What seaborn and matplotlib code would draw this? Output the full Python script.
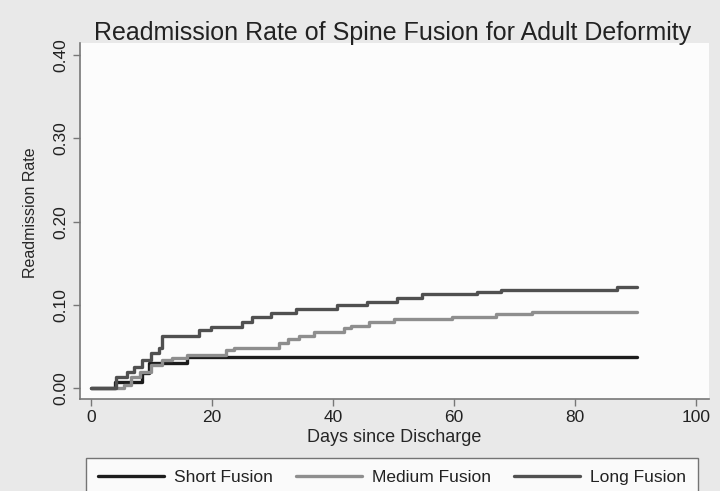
import pandas as pd
import matplotlib
matplotlib.use("Agg")
import matplotlib.pyplot as plt
import seaborn as sns

# -------------------
# Data
# -------------------
short_days = [0, 4.0, 8.5, 9.6, 15.9, 90.2]
short_rate = [0, 0.008, 0.018, 0.030, 0.038, 0.038]

medium_days = [0, 5.5, 6.6, 8.2, 9.9, 11.8, 13.4, 15.9, 22.3, 23.6, 31.0, 32.5,
               34.4, 36.9, 41.8, 43.0, 46.0, 50.0, 59.7, 66.9, 72.9, 90.2]
medium_rate = [0, 0.004, 0.013, 0.020, 0.028, 0.034, 0.036, 0.040, 0.046, 0.048, 0.054, 0.059,
               0.063, 0.067, 0.072, 0.075, 0.079, 0.083, 0.085, 0.089, 0.091, 0.091]

long_days = [0, 4.1, 6.0, 7.1, 8.5, 9.9, 11.2, 11.8, 17.9, 19.8, 25.0, 26.6,
             29.7, 33.9, 40.7, 45.6, 50.6, 54.7, 63.8, 67.8, 86.8, 90.2]
long_rate = [0, 0.014, 0.020, 0.026, 0.034, 0.042, 0.048, 0.063, 0.070, 0.073, 0.079, 0.085,
             0.090, 0.095, 0.100, 0.103, 0.108, 0.113, 0.115, 0.118, 0.121, 0.121]

groups = ["Short Fusion", "Medium Fusion", "Long Fusion"]
colors = ["#1c1c1c", "#8e8e8e", "#505050"]

x_ticks = [0, 20, 40, 60, 80, 100]
y_ticks = [0.0, 0.1, 0.2, 0.3, 0.4]

df = pd.concat([
    pd.DataFrame({"days": short_days, "rate": short_rate, "group": groups[0]}),
    pd.DataFrame({"days": medium_days, "rate": medium_rate, "group": groups[1]}),
    pd.DataFrame({"days": long_days, "rate": long_rate, "group": groups[2]}),
])

# -------------------
# Plot
# -------------------
sns.set_style("ticks")
plt.rcParams["font.family"] = ["Liberation Sans", "DejaVu Sans"]
plt.rcParams["text.color"] = "#222222"

fig = plt.figure(figsize=(7.2, 4.91), dpi=100, facecolor="#e9e9e9")
ax = fig.add_axes([0.111, 0.187, 0.874, 0.725])
ax.set_facecolor("#fcfcfc")

sns.lineplot(data=df, x="days", y="rate", hue="group", hue_order=groups,
             palette=colors, estimator=None, drawstyle="steps-post",
             linewidth=2.4, legend=False, ax=ax)

ax.set_xlim(-1.8, 102.1)
ax.set_ylim(-0.0132, 0.4144)
ax.set_xticks(x_ticks)
ax.set_xticklabels([str(t) for t in x_ticks], fontsize=12.5, color="#222222")
ax.set_yticks(y_ticks)
ax.set_yticklabels([f"{t:.2f}" for t in y_ticks], fontsize=12.5, color="#222222",
                   rotation=90, va="center")
ax.tick_params(axis="both", direction="out", length=5, width=1, color="#777777", pad=3)

sns.despine(ax=ax)
for side in ["left", "bottom"]:
    ax.spines[side].set_color("#777777")
    ax.spines[side].set_linewidth(1.2)

ax.set_xlabel("Days since Discharge", fontsize=13, labelpad=3)
ax.set_ylabel("Readmission Rate", fontsize=11.5)
ax.yaxis.set_label_coords(-0.066, 0.525)
fig.text(0.545, 0.933, "Readmission Rate of Spine Fusion for Adult Deformity",
         ha="center", va="center", fontsize=18, color="#222222")

handles = [plt.Line2D([], [], color=c, linewidth=2.4) for c in colors]
leg = fig.legend(handles, groups, loc="upper left", ncol=3,
                 bbox_to_anchor=(0.119, 0.067), borderaxespad=0, fontsize=12.5,
                 handlelength=3.8, handletextpad=0.6, columnspacing=1.3,
                 frameon=True, fancybox=False, borderpad=0.7,
                 edgecolor="#555555", facecolor="#ffffff")
leg.get_frame().set_linewidth(1.0)

fig.savefig("out.png", dpi=100, facecolor=fig.get_facecolor())
